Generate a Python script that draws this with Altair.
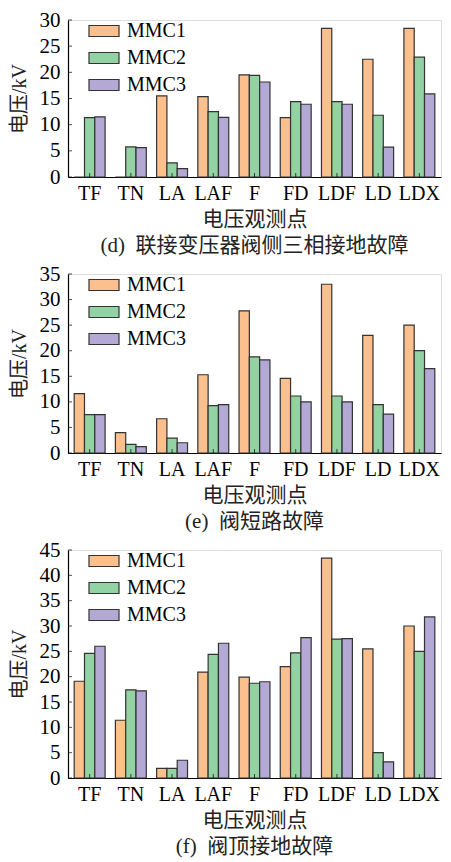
import altair as alt
import pandas as pd

categories = ["TF", "TN", "LA", "LAF", "F", "FD", "LDF", "LD", "LDX"]
series = ["MMC1", "MMC2", "MMC3"]
colors = ["#FCC08F", "#93D2A2", "#B3A9D4"]

d_mmc1 = [0, 0, 15.5, 15.35, 19.5, 11.35, 28.4, 22.5, 28.4]
d_mmc2 = [11.35, 5.75, 2.7, 12.5, 19.4, 14.4, 14.4, 11.8, 22.9]
d_mmc3 = [11.5, 5.6, 1.6, 11.4, 18.15, 13.9, 13.9, 5.7, 15.9]

e_mmc1 = [11.6, 4.0, 6.7, 15.3, 27.8, 14.6, 33.0, 23.0, 25.0]
e_mmc2 = [7.5, 1.7, 2.9, 9.25, 18.8, 11.15, 11.15, 9.45, 20.0]
e_mmc3 = [7.5, 1.25, 2.0, 9.45, 18.2, 10.0, 10.0, 7.6, 16.5]

f_mmc1 = [19.1, 11.4, 1.9, 20.9, 19.9, 22.0, 43.4, 25.5, 30.0]
f_mmc2 = [24.6, 17.4, 1.9, 24.4, 18.7, 24.7, 27.4, 5.0, 25.0]
f_mmc3 = [26.0, 17.2, 3.5, 26.6, 19.0, 27.7, 27.5, 3.2, 31.8]

captions = ["(d)\u00a0\u00a0联接变压器阀侧三相接地故障", "(e)\u00a0\u00a0阀短路故障", "(f)\u00a0\u00a0阀顶接地故障"]
x_title = "电压观测点"
y_title = "电压/kV"

SERIF = "Liberation Serif, Noto Sans CJK SC"
W = 373


def panel(vals, ymax, h, caption):
    rows = []
    for s, arr in zip(series, vals):
        for c, v in zip(categories, arr):
            rows.append({"cat": c, "series": s, "value": v})
    df = pd.DataFrame(rows)
    tick_vals = list(range(0, ymax + 1, 5))

    x = alt.X(
        "cat:N",
        sort=categories,
        scale=alt.Scale(paddingInner=0.25, paddingOuter=0.15),
        axis=alt.Axis(
            title=x_title, labelAngle=0, ticks=False, domainColor="black",
            domainWidth=1.2, labelFont=SERIF, labelFontSize=20, labelColor="black",
            titleFont=SERIF, titleFontSize=21, titleFontWeight="normal",
            titleColor="#222", labelPadding=6, titlePadding=5,
        ),
    )
    y = alt.Y(
        "value:Q",
        scale=alt.Scale(domain=[0, ymax], nice=False),
        axis=alt.Axis(
            values=tick_vals, title=y_title, ticks=False, grid=False,
            labelOverlap=False, labelFlush=False,
            domainColor="black", domainWidth=1.2, labelFont=SERIF,
            labelFontSize=21, labelColor="black", labelPadding=8,
            titleFont=SERIF, titleFontSize=20, titleFontWeight="normal",
            titleColor="#222", titlePadding=10,
        ),
    )
    bars = alt.Chart(df).mark_bar(stroke="#333333", strokeWidth=1.2).encode(
        x=x,
        xOffset=alt.XOffset("series:N", sort=series,
                            scale=alt.Scale(paddingInner=0, paddingOuter=0)),
        y=y,
        color=alt.Color(
            "series:N",
            scale=alt.Scale(domain=series, range=colors),
            legend=alt.Legend(
                title=None, orient="none", legendX=25, legendY=0,
                symbolType="M-1.5,-0.55L1.5,-0.55L1.5,0.55L-1.5,0.55Z",
                symbolSize=400, symbolStrokeColor="#333333",
                symbolStrokeWidth=1.2, symbolOpacity=1,
                labelFont=SERIF, labelFontSize=20, labelColor="black",
                labelOffset=12, rowPadding=6, padding=0,
            ),
        ),
    )
    xt = alt.Chart(pd.DataFrame({"cat": categories})).mark_tick(
        orient="vertical", size=4, thickness=1, color="black"
    ).encode(x=x, y=alt.value(h - 2))
    yt = alt.Chart(pd.DataFrame({"value": tick_vals})).mark_tick(
        orient="horizontal", size=4, thickness=1, color="black"
    ).encode(y=y, x=alt.value(2))
    return alt.layer(bars, xt, yt).properties(
        width=W, height=h,
        title=alt.TitleParams(
            caption, orient="bottom", font=SERIF, fontSize=21,
            fontWeight="normal", color="#222", offset=6, anchor="middle",
        ),
    )


pd_ = panel([d_mmc1, d_mmc2, d_mmc3], 30, 157, captions[0])
pe = panel([e_mmc1, e_mmc2, e_mmc3], 35, 179, captions[1])
pf = panel([f_mmc1, f_mmc2, f_mmc3], 45, 228, captions[2])

chart = alt.vconcat(pd_, pe, pf, spacing=5).resolve_scale(
    color="independent"
).resolve_legend(color="independent").configure_view(stroke=None).configure(
    padding={"left": 0, "right": 0, "top": 0, "bottom": 0}
)

chart.save("out.html", embed_options={"renderer": "svg", "actions": False})
